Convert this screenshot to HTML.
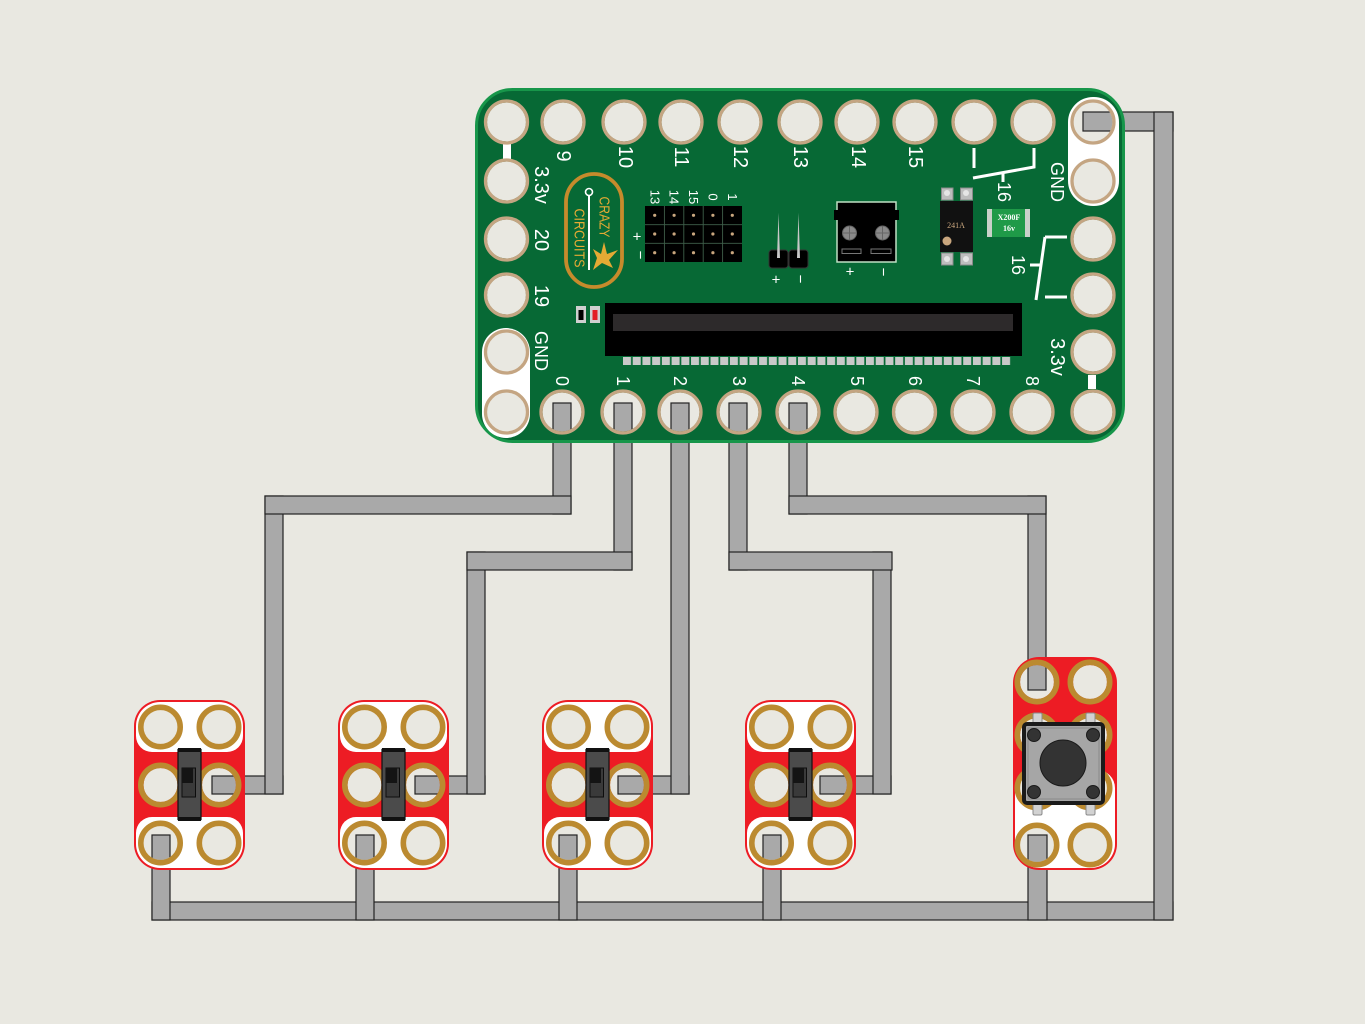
<!DOCTYPE html>
<html><head><meta charset="utf-8"><style>
html,body{margin:0;padding:0;background:#e9e8e1;}
svg{display:block;}
text{font-family:"Liberation Sans",Arial,sans-serif;}
</style></head><body>
<svg width="1365" height="1024" viewBox="0 0 1365 1024" xmlns="http://www.w3.org/2000/svg">
<defs>
<mask id="bm" maskUnits="userSpaceOnUse" x="0" y="0" width="1365" height="1024">
<rect width="1365" height="1024" fill="#fff"/>
<g fill="#000">
<circle cx="506.5" cy="122" r="19.5"/><circle cx="563" cy="122" r="19.5"/><circle cx="624" cy="122" r="19.5"/><circle cx="681" cy="122" r="19.5"/><circle cx="740" cy="122" r="19.5"/><circle cx="800" cy="122" r="19.5"/><circle cx="857" cy="122" r="19.5"/><circle cx="915" cy="122" r="19.5"/><circle cx="974" cy="122" r="19.5"/><circle cx="1033" cy="122" r="19.5"/><circle cx="1093" cy="122" r="19.5"/>
<circle cx="506.5" cy="181" r="19.5"/><circle cx="506.5" cy="239" r="19.5"/><circle cx="506.5" cy="295" r="19.5"/><circle cx="506.5" cy="352" r="19.5"/><circle cx="506.5" cy="412" r="19.5"/>
<circle cx="1093" cy="181" r="19.5"/><circle cx="1093" cy="239" r="19.5"/><circle cx="1093" cy="295" r="19.5"/><circle cx="1093" cy="352" r="19.5"/><circle cx="1093" cy="412" r="19.5"/>
<circle cx="562" cy="412" r="19.5"/><circle cx="623" cy="412" r="19.5"/><circle cx="680" cy="412" r="19.5"/><circle cx="739" cy="412" r="19.5"/><circle cx="798" cy="412" r="19.5"/><circle cx="856" cy="412" r="19.5"/><circle cx="914.5" cy="412" r="19.5"/><circle cx="973" cy="412" r="19.5"/><circle cx="1032" cy="412" r="19.5"/>
</g>
</mask>
<mask id="mm" maskUnits="userSpaceOnUse" x="0" y="0" width="1365" height="1024">
<rect width="1365" height="1024" fill="#fff"/>
<g fill="#000">
<circle cx="160.5" cy="727" r="17"/><circle cx="219" cy="727" r="17"/><circle cx="160.5" cy="785" r="17"/><circle cx="219" cy="785" r="17"/><circle cx="160.5" cy="843" r="17"/><circle cx="219" cy="843" r="17"/>
<circle cx="364.5" cy="727" r="17"/><circle cx="423" cy="727" r="17"/><circle cx="364.5" cy="785" r="17"/><circle cx="423" cy="785" r="17"/><circle cx="364.5" cy="843" r="17"/><circle cx="423" cy="843" r="17"/>
<circle cx="568.5" cy="727" r="17"/><circle cx="627" cy="727" r="17"/><circle cx="568.5" cy="785" r="17"/><circle cx="627" cy="785" r="17"/><circle cx="568.5" cy="843" r="17"/><circle cx="627" cy="843" r="17"/>
<circle cx="771.5" cy="727" r="17"/><circle cx="830" cy="727" r="17"/><circle cx="771.5" cy="785" r="17"/><circle cx="830" cy="785" r="17"/><circle cx="771.5" cy="843" r="17"/><circle cx="830" cy="843" r="17"/>
<circle cx="1037" cy="682" r="17"/><circle cx="1090" cy="682" r="17"/><circle cx="1037" cy="735" r="17"/><circle cx="1090" cy="735" r="17"/><circle cx="1037" cy="788" r="17"/><circle cx="1090" cy="788" r="17"/><circle cx="1037" cy="845" r="17"/><circle cx="1090" cy="845" r="17"/>
</g>
</mask>
<pattern id="sq" x="623" y="357" width="9.72" height="9" patternUnits="userSpaceOnUse"><rect width="8" height="8" fill="#c9c9c9"/></pattern>
</defs>

<rect width="1365" height="1024" fill="#e9e8e1"/>

<!-- wires -->
<g fill="#a9a9a9" stroke="#222" stroke-width="1.2">
<rect x="152" y="902" width="1021" height="18"/>
<rect x="1083" y="112" width="90" height="19"/>
<rect x="1154" y="112" width="19" height="808"/>
<rect x="152" y="835" width="18" height="85"/>
<rect x="356" y="835" width="18" height="85"/>
<rect x="559" y="835" width="18" height="85"/>
<rect x="763" y="835" width="18" height="85"/>
<rect x="1028" y="835" width="19" height="85"/>
<rect x="212" y="776" width="71" height="18"/>
<rect x="265" y="496" width="18" height="298"/>
<rect x="553" y="403" width="18" height="111"/>
<rect x="265" y="496" width="306" height="18"/>
<rect x="415" y="776" width="70" height="18"/>
<rect x="467" y="552" width="18" height="242"/>
<rect x="614" y="403" width="18" height="167"/>
<rect x="467" y="552" width="165" height="18"/>
<rect x="618" y="776" width="71" height="18"/>
<rect x="671" y="403" width="18" height="391"/>
<rect x="820" y="776" width="71" height="18"/>
<rect x="873" y="552" width="18" height="242"/>
<rect x="729" y="403" width="18" height="167"/>
<rect x="729" y="552" width="163" height="18"/>
<rect x="1028" y="496" width="18" height="194"/>
<rect x="789" y="403" width="18" height="111"/>
<rect x="789" y="496" width="257" height="18"/>
</g>

<!-- board -->
<g mask="url(#bm)">
<rect x="476.5" y="89.5" width="647" height="352" rx="36" fill="#076935" stroke="#17964a" stroke-width="3"/>
<rect x="482" y="328" width="48" height="110" rx="24" fill="#fff"/>
<rect x="1068" y="97" width="51" height="109" rx="25" fill="#fff"/>
<rect x="503" y="144" width="8" height="15" fill="#fff"/>
<rect x="1088" y="375" width="8" height="14" fill="#fff"/>
</g>
<g fill="none" stroke="#c4a582" stroke-width="3.3">
<circle cx="506.5" cy="122" r="21"/><circle cx="563" cy="122" r="21"/><circle cx="624" cy="122" r="21"/><circle cx="681" cy="122" r="21"/><circle cx="740" cy="122" r="21"/><circle cx="800" cy="122" r="21"/><circle cx="857" cy="122" r="21"/><circle cx="915" cy="122" r="21"/><circle cx="974" cy="122" r="21"/><circle cx="1033" cy="122" r="21"/><circle cx="1093" cy="122" r="21"/>
<circle cx="506.5" cy="181" r="21"/><circle cx="506.5" cy="239" r="21"/><circle cx="506.5" cy="295" r="21"/><circle cx="506.5" cy="352" r="21"/><circle cx="506.5" cy="412" r="21"/>
<circle cx="1093" cy="181" r="21"/><circle cx="1093" cy="239" r="21"/><circle cx="1093" cy="295" r="21"/><circle cx="1093" cy="352" r="21"/><circle cx="1093" cy="412" r="21"/>
<circle cx="562" cy="412" r="21"/><circle cx="623" cy="412" r="21"/><circle cx="680" cy="412" r="21"/><circle cx="739" cy="412" r="21"/><circle cx="798" cy="412" r="21"/><circle cx="856" cy="412" r="21"/><circle cx="914.5" cy="412" r="21"/><circle cx="973" cy="412" r="21"/><circle cx="1032" cy="412" r="21"/>
</g>

<!-- 16 lines -->
<g stroke="#fff" stroke-width="3" fill="none">
<line x1="974" y1="148" x2="974" y2="168"/>
<polyline points="1034,148 1034,167 973,178"/>
<line x1="1003" y1="172" x2="1003" y2="182"/>
<line x1="1045" y1="237" x2="1067" y2="237"/>
<line x1="1045" y1="237" x2="1036" y2="300"/>
<line x1="1045" y1="297" x2="1067" y2="297"/>
<line x1="1030" y1="265" x2="1042" y2="265"/>
</g>

<!-- labels -->
<g fill="#fff" font-size="20" text-anchor="middle" dominant-baseline="central">
<text transform="translate(563 156) rotate(90)">9</text>
<text transform="translate(625 157) rotate(90)">10</text>
<text transform="translate(681 157) rotate(90)">11</text>
<text transform="translate(740 157) rotate(90)">12</text>
<text transform="translate(800 157) rotate(90)">13</text>
<text transform="translate(858 157) rotate(90)">14</text>
<text transform="translate(915 157) rotate(90)">15</text>
<text transform="translate(541 185) rotate(90)">3.3v</text>
<text transform="translate(541 240) rotate(90)">20</text>
<text transform="translate(541 296) rotate(90)">19</text>
<text transform="translate(1057 357) rotate(90)">3.3v</text>
</g>
<g fill="#fff" font-size="18" text-anchor="middle" dominant-baseline="central">
<text transform="translate(541 351) rotate(90)">GND</text>
<text transform="translate(1057 182) rotate(90)">GND</text>
<text transform="translate(1018 265) rotate(90)">16</text>
<text transform="translate(1004 192) rotate(90)">16</text>
<text transform="translate(562 381) rotate(90)">0</text>
<text transform="translate(623 381) rotate(90)">1</text>
<text transform="translate(680 381) rotate(90)">2</text>
<text transform="translate(739 381) rotate(90)">3</text>
<text transform="translate(798 381) rotate(90)">4</text>
<text transform="translate(857 381) rotate(90)">5</text>
<text transform="translate(915 381) rotate(90)">6</text>
<text transform="translate(973 381) rotate(90)">7</text>
<text transform="translate(1032 381) rotate(90)">8</text>
</g>

<!-- logo -->
<rect x="566" y="174" width="56" height="113" rx="28" fill="none" stroke="#c68b2c" stroke-width="3.8"/>
<line x1="589" y1="196" x2="589" y2="270" stroke="#fff" stroke-width="2"/>
<circle cx="589" cy="192" r="3.5" fill="#076935" stroke="#fff" stroke-width="1.6"/>
<g fill="#e4aa34" font-size="15" text-anchor="middle" dominant-baseline="central">
<text transform="translate(604 217) rotate(90)" textLength="41" lengthAdjust="spacingAndGlyphs">CRAZY</text>
<text transform="translate(579 238) rotate(90)" textLength="59" lengthAdjust="spacingAndGlyphs">CIRCUITS</text>
</g>
<polygon points="593,270 597,258 593,249 601,254 604,242 607,254 618,250 609,260 613,268 602,263" fill="#e4aa34"/>

<!-- header grid -->
<rect x="645" y="206" width="97" height="56" fill="#000"/>
<g stroke="#3f5f4a" stroke-width="0.9">
<line x1="664.4" y1="206" x2="664.4" y2="262"/><line x1="683.8" y1="206" x2="683.8" y2="262"/><line x1="703.2" y1="206" x2="703.2" y2="262"/><line x1="722.6" y1="206" x2="722.6" y2="262"/>
<line x1="645" y1="224.7" x2="742" y2="224.7"/><line x1="645" y1="243.3" x2="742" y2="243.3"/>
</g>
<g fill="#c9a67e">
<circle cx="654.7" cy="215.3" r="1.6"/><circle cx="674.1" cy="215.3" r="1.6"/><circle cx="693.5" cy="215.3" r="1.6"/><circle cx="712.9" cy="215.3" r="1.6"/><circle cx="732.3" cy="215.3" r="1.6"/>
<circle cx="654.7" cy="234" r="1.6"/><circle cx="674.1" cy="234" r="1.6"/><circle cx="693.5" cy="234" r="1.6"/><circle cx="712.9" cy="234" r="1.6"/><circle cx="732.3" cy="234" r="1.6"/>
<circle cx="654.7" cy="252.7" r="1.6"/><circle cx="674.1" cy="252.7" r="1.6"/><circle cx="693.5" cy="252.7" r="1.6"/><circle cx="712.9" cy="252.7" r="1.6"/><circle cx="732.3" cy="252.7" r="1.6"/>
</g>
<g fill="#fff" font-size="13" text-anchor="middle" dominant-baseline="central">
<text transform="translate(655 197) rotate(90)">13</text>
<text transform="translate(674 197) rotate(90)">14</text>
<text transform="translate(693.5 197) rotate(90)">15</text>
<text transform="translate(713 197) rotate(90)">0</text>
<text transform="translate(732.5 197) rotate(90)">1</text>
<text x="637" y="237" font-size="15">+</text>
<text transform="translate(640 255) rotate(90)" font-size="15">−</text>
<text x="776" y="280" font-size="15">+</text>
<text transform="translate(800 279) rotate(90)" font-size="15">−</text>
<text x="850" y="272" font-size="15">+</text>
<text transform="translate(883 272) rotate(90)" font-size="15">−</text>
</g>

<!-- 2 pin header -->
<rect x="769" y="250" width="19" height="18" rx="3" fill="#000" stroke="#333"/>
<rect x="789" y="250" width="19" height="18" rx="3" fill="#000" stroke="#333"/>
<polygon points="778.5,213 780,258 777,258" fill="#c8c8c8"/>
<polygon points="798.5,213 800,258 797,258" fill="#c8c8c8"/>

<!-- terminal block -->
<rect x="837" y="202" width="59" height="60" fill="#000" stroke="#bfe0c4" stroke-width="1.5"/>
<rect x="834" y="210" width="65" height="10" fill="#000"/>
<circle cx="849.5" cy="233" r="7" fill="#8a8a8a" stroke="#666"/>
<circle cx="882.5" cy="233" r="7" fill="#8a8a8a" stroke="#666"/>
<g stroke="#666" stroke-width="1"><line x1="843" y1="233" x2="856" y2="233"/><line x1="849.5" y1="226.5" x2="849.5" y2="239.5"/><line x1="876" y1="233" x2="889" y2="233"/><line x1="882.5" y1="226.5" x2="882.5" y2="239.5"/></g>
<rect x="842" y="249" width="19" height="4.5" fill="none" stroke="#777" stroke-width="1"/>
<rect x="871" y="249" width="20" height="4.5" fill="none" stroke="#777" stroke-width="1"/>

<!-- chip -->
<g fill="#bdbdbd" stroke="#8a8a8a" stroke-width="1">
<rect x="941.5" y="188" width="11.5" height="12"/><rect x="960.5" y="188" width="12" height="12"/>
<rect x="941.5" y="253" width="11.5" height="12"/><rect x="960.5" y="253" width="12" height="12"/>
</g>
<g fill="#e5e5e5"><circle cx="947" cy="193" r="3"/><circle cx="966" cy="193" r="3"/><circle cx="947" cy="259" r="3"/><circle cx="966" cy="259" r="3"/></g>
<rect x="940" y="201" width="33" height="51" fill="#111"/>
<text x="956" y="228" font-size="8" fill="#c9a67e" text-anchor="middle" style="font-family:'Liberation Serif',serif">241A</text>
<circle cx="947" cy="241" r="4.5" fill="#c9a67e"/>

<!-- fuse -->
<rect x="987" y="209" width="43" height="28" fill="#1f9a48"/>
<rect x="987" y="209" width="5" height="28" fill="#c9d1c9"/>
<rect x="1025" y="209" width="5" height="28" fill="#c9d1c9"/>
<text x="1009" y="220" font-size="8" font-weight="bold" fill="#fff" text-anchor="middle" style="font-family:'Liberation Serif',serif">X200F</text>
<text x="1009" y="231" font-size="8" font-weight="bold" fill="#fff" text-anchor="middle" style="font-family:'Liberation Serif',serif">16v</text>

<!-- LEDs -->
<rect x="576" y="306" width="10" height="17" fill="#d0d0d0"/><rect x="578.5" y="310" width="5" height="10" fill="#000"/>
<rect x="590" y="306" width="10" height="17" fill="#d0d0d0"/><rect x="592.5" y="310" width="5" height="10" fill="#e31e24"/>

<!-- edge connector -->
<rect x="605" y="303" width="417" height="53" fill="#000"/>
<rect x="613" y="314" width="400" height="17" fill="#2d2a2b"/>
<rect x="623" y="357" width="388" height="8" fill="url(#sq)"/>

<!-- modules -->
<g mask="url(#mm)">
<rect x="134" y="700" width="111" height="170" rx="26" fill="#ed1c24"/>
<path d="M160,702 H219 A24,24 0 0 1 243,726 V736 A16,16 0 0 1 227,752 H152 A16,16 0 0 1 136,736 V726 A24,24 0 0 1 160,702 Z" fill="#fff"/>
<path d="M152,817 H227 A16,16 0 0 1 243,833 V844 A24,24 0 0 1 219,868 H160 A24,24 0 0 1 136,844 V833 A16,16 0 0 1 152,817 Z" fill="#fff"/>
<rect x="338" y="700" width="111" height="170" rx="26" fill="#ed1c24"/>
<path d="M364,702 H423 A24,24 0 0 1 447,726 V736 A16,16 0 0 1 431,752 H356 A16,16 0 0 1 340,736 V726 A24,24 0 0 1 364,702 Z" fill="#fff"/>
<path d="M356,817 H431 A16,16 0 0 1 447,833 V844 A24,24 0 0 1 423,868 H364 A24,24 0 0 1 340,844 V833 A16,16 0 0 1 356,817 Z" fill="#fff"/>
<rect x="542" y="700" width="111" height="170" rx="26" fill="#ed1c24"/>
<path d="M568,702 H627 A24,24 0 0 1 651,726 V736 A16,16 0 0 1 635,752 H560 A16,16 0 0 1 544,736 V726 A24,24 0 0 1 568,702 Z" fill="#fff"/>
<path d="M560,817 H635 A16,16 0 0 1 651,833 V844 A24,24 0 0 1 627,868 H568 A24,24 0 0 1 544,844 V833 A16,16 0 0 1 560,817 Z" fill="#fff"/>
<rect x="745" y="700" width="111" height="170" rx="26" fill="#ed1c24"/>
<path d="M771,702 H830 A24,24 0 0 1 854,726 V736 A16,16 0 0 1 838,752 H763 A16,16 0 0 1 747,736 V726 A24,24 0 0 1 771,702 Z" fill="#fff"/>
<path d="M763,817 H838 A16,16 0 0 1 854,833 V844 A24,24 0 0 1 830,868 H771 A24,24 0 0 1 747,844 V833 A16,16 0 0 1 763,817 Z" fill="#fff"/>
<rect x="1013" y="657" width="104" height="213" rx="26" fill="#ed1c24"/>
<path d="M1033,770 H1097 A18,18 0 0 1 1115,788 V844 A24,24 0 0 1 1091,868 H1039 A24,24 0 0 1 1015,844 V788 A18,18 0 0 1 1033,770 Z" fill="#fff"/>
</g>
<g fill="none" stroke="#bb8a30" stroke-width="5.6">
<circle cx="160.5" cy="727" r="19.7"/><circle cx="219" cy="727" r="19.7"/><circle cx="160.5" cy="785" r="19.7"/><circle cx="219" cy="785" r="19.7"/><circle cx="160.5" cy="843" r="19.7"/><circle cx="219" cy="843" r="19.7"/>
<circle cx="364.5" cy="727" r="19.7"/><circle cx="423" cy="727" r="19.7"/><circle cx="364.5" cy="785" r="19.7"/><circle cx="423" cy="785" r="19.7"/><circle cx="364.5" cy="843" r="19.7"/><circle cx="423" cy="843" r="19.7"/>
<circle cx="568.5" cy="727" r="19.7"/><circle cx="627" cy="727" r="19.7"/><circle cx="568.5" cy="785" r="19.7"/><circle cx="627" cy="785" r="19.7"/><circle cx="568.5" cy="843" r="19.7"/><circle cx="627" cy="843" r="19.7"/>
<circle cx="771.5" cy="727" r="19.7"/><circle cx="830" cy="727" r="19.7"/><circle cx="771.5" cy="785" r="19.7"/><circle cx="830" cy="785" r="19.7"/><circle cx="771.5" cy="843" r="19.7"/><circle cx="830" cy="843" r="19.7"/>
<circle cx="1037" cy="682" r="19.7"/><circle cx="1090" cy="682" r="19.7"/><circle cx="1037" cy="735" r="19.7"/><circle cx="1090" cy="735" r="19.7"/><circle cx="1037" cy="788" r="19.7"/><circle cx="1090" cy="788" r="19.7"/><circle cx="1037" cy="845" r="19.7"/><circle cx="1090" cy="845" r="19.7"/>
</g>

<!-- slide switches -->
<g>
<rect x="178" y="749.5" width="23" height="70" fill="#4b4b4b" stroke="#111" stroke-width="1.2"/>
<rect x="178" y="748" width="23" height="4" fill="#111"/><rect x="178" y="817" width="23" height="4" fill="#111"/>
<rect x="182" y="768" width="13.5" height="29" fill="#3a3a3a" stroke="#0d0d0d" stroke-width="1"/>
<rect x="182" y="768" width="11" height="15" fill="#141414"/>
</g>
<g>
<rect x="382" y="749.5" width="23" height="70" fill="#4b4b4b" stroke="#111" stroke-width="1.2"/>
<rect x="382" y="748" width="23" height="4" fill="#111"/><rect x="382" y="817" width="23" height="4" fill="#111"/>
<rect x="386" y="768" width="13.5" height="29" fill="#3a3a3a" stroke="#0d0d0d" stroke-width="1"/>
<rect x="386" y="768" width="11" height="15" fill="#141414"/>
</g>
<g>
<rect x="586" y="749.5" width="23" height="70" fill="#4b4b4b" stroke="#111" stroke-width="1.2"/>
<rect x="586" y="748" width="23" height="4" fill="#111"/><rect x="586" y="817" width="23" height="4" fill="#111"/>
<rect x="590" y="768" width="13.5" height="29" fill="#3a3a3a" stroke="#0d0d0d" stroke-width="1"/>
<rect x="590" y="768" width="11" height="15" fill="#141414"/>
</g>
<g>
<rect x="789" y="749.5" width="23" height="70" fill="#4b4b4b" stroke="#111" stroke-width="1.2"/>
<rect x="789" y="748" width="23" height="4" fill="#111"/><rect x="789" y="817" width="23" height="4" fill="#111"/>
<rect x="793" y="768" width="13.5" height="29" fill="#3a3a3a" stroke="#0d0d0d" stroke-width="1"/>
<rect x="793" y="768" width="11" height="15" fill="#141414"/>
</g>

<!-- push button -->
<g fill="#d2d2d2" stroke="#8a8a8a" stroke-width="1">
<rect x="1033" y="713" width="9" height="12" rx="1.5"/><rect x="1086" y="713" width="9" height="12" rx="1.5"/>
<rect x="1033" y="803" width="9" height="12" rx="1.5"/><rect x="1086" y="803" width="9" height="12" rx="1.5"/>
</g>
<rect x="1024" y="724" width="79" height="79" rx="3" fill="#a6a6a6" stroke="#1a1a1a" stroke-width="4"/>
<rect x="1028" y="728" width="71" height="71" fill="none" stroke="#8a8a8a" stroke-width="1"/>
<g fill="#333" stroke="#1a1a1a" stroke-width="1">
<circle cx="1034" cy="735" r="6.5"/><circle cx="1093" cy="735" r="6.5"/><circle cx="1034" cy="792" r="6.5"/><circle cx="1093" cy="792" r="6.5"/>
<circle cx="1063" cy="763" r="23"/>
</g>
</svg>
</body></html>
